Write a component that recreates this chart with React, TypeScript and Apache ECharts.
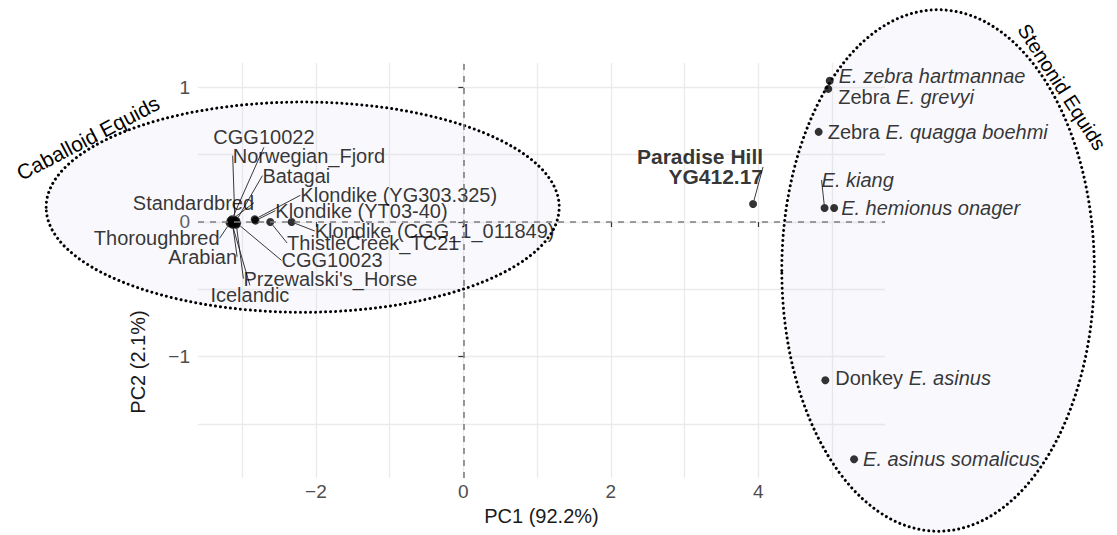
import React, { useEffect, useRef } from 'react';
import * as echarts from 'echarts';

// ---- data ----
const sampleNames = [
  'Standardbred', 'Thoroughbred', 'Arabian', 'Icelandic', 'CGG10022', 'Norwegian_Fjord', 'Batagai',
  "Przewalski's_Horse", 'CGG10023',
  'Klondike (YG303.325)', 'Klondike (YT03-40)', 'ThistleCreek_TC21', 'Klondike (CGG_1_011849)',
  'Paradise Hill\nYG412.17',
  'E. zebra hartmannae', 'Zebra E. grevyi', 'Zebra E. quagga boehmi', 'E. kiang', 'E. hemionus onager',
  'Donkey E. asinus', 'E. asinus somalicus',
];
const pc1Values = [
  -3.16, -3.17, -3.13, -3.14, -3.14, -3.10, -3.08, -3.08, -3.07,
  -2.83, -2.82, -2.62, -2.33,
  3.93,
  4.97, 4.95, 4.82, 4.90, 5.03, 4.91, 5.30,
];
const pc2Values = [
  0.01, -0.01, -0.02, -0.01, 0.02, 0.01, 0.01, -0.02, -0.01,
  0.02, 0.01, 0.0, 0.0,
  0.134,
  1.048, 0.988, 0.669, 0.104, 0.104, -1.174, -1.761,
];

const xGridValues = [-3, -2, -1, 0, 1, 2, 3, 4, 5];
const xTickValues = [-2, 0, 2, 4];
const yGridValues = [-1.5, -1, -0.5, 0, 0.5, 1];
const yTickValues = [-1, 0, 1];

const groupNames = ['Caballoid Equids', 'Stenonid Equids'];
const ellipseCenterX = [-2.18, 6.44];
const ellipseCenterY = [0.11, -0.36];
const ellipseRadiusX = [3.48, 2.12];
const ellipseRadiusY = [0.78, 1.935];

// ---- label layout (pixels relative to point) ----
const labelDx = [-37, -73, -30, 18, 32, 74, 60, 94, 95, 144, 106, 103, 143, 10, 9, 10, 9, -3, 7, 10, 9];
const labelDy = [-18, 15, 32, 72, -82, -65, -45, 54, 37, -24, -10, 21, 9, -37, -5, 8, 0, -28, 0, -2, 0];
const labelAlign = [
  'center', 'center', 'center', 'center', 'center', 'center', 'center', 'center', 'center',
  'center', 'center', 'center', 'center',
  'right',
  'left', 'left', 'left', 'left', 'left', 'left', 'left',
];
const hasLeader = [
  true, true, true, true, true, true, true, true, true,
  true, true, true, true,
  true,
  false, false, false, true, false, false, false,
];

const FONT = '"Liberation Sans", Arial, Helvetica, sans-serif';
const LABEL_SIZE = 20;

function labelText(name: string): string {
  const k = name.indexOf('E. ');
  if (k < 0) return name;
  const a = name.slice(0, k);
  const b = name.slice(k);
  return (a ? `{n|${a}}` : '') + `{i|${b}}`;
}

const fmtNum = (v: number) => (v < 0 ? '\u2212' + Math.abs(v) : String(v));

export default function App() {
  const ref = useRef<HTMLDivElement>(null);
  useEffect(() => {
    if (!ref.current) return;
    const chart = echarts.init(ref.current, undefined, { renderer: 'svg' });
    const xMin = -3.6, xMax = 5.72, yMin = -1.9, yMax = 1.18;
    const data = sampleNames.map((n, i) => {
      const item: any = {
        name: n,
        value: [pc1Values[i], pc2Values[i]],
        labelLine: { show: hasLeader[i] },
      };
      if (n.indexOf('Paradise') === 0) {
        item.label = { fontWeight: 'bold', fontSize: 21, lineHeight: 20, align: 'right', color: '#000' };
      }
      return item;
    });
    const option: any = {
      animation: false,
      textStyle: { fontFamily: FONT },
      grid: { left: 198, right: 232, top: 63, bottom: 57, containLabel: false },
      xAxis: [
        {
          type: 'value', min: xMin, max: xMax, position: 'bottom',
          axisLine: { show: false },
          axisTick: { show: false, customValues: xGridValues },
          axisLabel: { show: false },
          splitLine: { show: true, lineStyle: { color: '#ebebeb', width: 1.3 } },
        },
        {
          type: 'value', min: xMin, max: xMax, position: 'bottom', offset: 0,
          axisLine: { show: false },
          axisTick: { show: true, customValues: xTickValues, length: 5, lineStyle: { color: '#333', width: 1.2 } },
          axisLabel: { show: true, customValues: xTickValues, formatter: fmtNum, color: '#4d4d4d', fontSize: 19, margin: 4, fontFamily: FONT },
          splitLine: { show: false },
          name: 'PC1 (92.2%)', nameLocation: 'middle', nameGap: 28,
          nameTextStyle: { fontSize: 20, color: '#1a1a1a', fontFamily: FONT },
        },
      ],
      yAxis: [
        {
          type: 'value', min: yMin, max: yMax, position: 'left',
          axisLine: { show: false },
          axisTick: { show: false, customValues: yGridValues },
          axisLabel: { show: false },
          splitLine: { show: true, lineStyle: { color: '#ebebeb', width: 1.3 } },
        },
        {
          type: 'value', min: yMin, max: yMax, position: 'left', offset: 0,
          axisLine: { show: false },
          axisTick: { show: true, customValues: yTickValues, length: 5, lineStyle: { color: '#333', width: 1.2 } },
          axisLabel: { show: true, customValues: yTickValues, formatter: fmtNum, color: '#4d4d4d', fontSize: 19, margin: 8, fontFamily: FONT },
          splitLine: { show: false },
        },
      ],
      series: [
        {
          type: 'scatter',
          xAxisIndex: 0,
          yAxisIndex: 0,
          symbol: 'circle',
          symbolSize: 8,
          itemStyle: { color: '#000' },
          emphasis: { disabled: true },
          z: 3,
          data,
          label: {
            show: true,
            position: 'right',
            fontSize: LABEL_SIZE,
            color: '#000',
            fontFamily: FONT,
            formatter: (p: any) => labelText(p.name),
            rich: {
              n: { fontSize: LABEL_SIZE, color: '#000', fontFamily: FONT, fontStyle: 'normal' },
              i: { fontSize: LABEL_SIZE, color: '#000', fontFamily: FONT, fontStyle: 'italic' },
            },
          },
          labelLine: { show: true, smooth: false, length2: 0, lineStyle: { color: '#222', width: 0.9 } },
          labelLayout: (params: any) => {
            const i = params.dataIndex;
            const r = params.rect;
            const cx = r.x + r.width / 2;
            const cy = r.y + r.height / 2;
            return {
              x: cx + labelDx[i],
              y: cy + labelDy[i],
              align: labelAlign[i],
              verticalAlign: 'middle',
            };
          },
          markLine: {
            silent: true,
            symbol: ['none', 'none'],
            label: { show: false },
            lineStyle: { type: [6, 6], color: '#7f7f7f', width: 1.6 },
            data: [{ xAxis: 0 }, { yAxis: 0 }],
          },
        },
      ],
    };
    chart.setOption(option);

    const ellipses = groupNames.map((g, k) => {
      const c = chart.convertToPixel({ gridIndex: 0 } as any, [ellipseCenterX[k], ellipseCenterY[k]]) as number[];
      const e = chart.convertToPixel({ gridIndex: 0 } as any, [
        ellipseCenterX[k] + ellipseRadiusX[k],
        ellipseCenterY[k] + ellipseRadiusY[k],
      ]) as number[];
      return {
        type: 'ellipse',
        silent: true,
        z: 1,
        shape: { cx: c[0], cy: c[1], rx: Math.abs(e[0] - c[0]), ry: Math.abs(e[1] - c[1]) },
        style: {
          fill: 'rgba(205,205,240,0.14)',
          stroke: '#000',
          lineWidth: 3,
          lineDash: [0.01, 5],
          lineCap: 'round',
        },
      };
    });
    const texts = [
      {
        type: 'text', x: 88, y: 138, rotation: 0.48, z: 5, silent: true,
        style: { text: groupNames[0], fontSize: 21, fontFamily: FONT, fill: '#000', align: 'center', verticalAlign: 'middle', textAlign: 'center', textVerticalAlign: 'middle' },
      },
      {
        type: 'text', x: 1062, y: 87, rotation: -1.0, z: 5, silent: true,
        style: { text: groupNames[1], fontSize: 20, fontFamily: FONT, fill: '#000', align: 'center', verticalAlign: 'middle', textAlign: 'center', textVerticalAlign: 'middle' },
      },
      {
        type: 'text', x: 138, y: 362, rotation: Math.PI / 2, z: 5, silent: true,
        style: { text: 'PC2 (2.1%)', fontSize: 20, fontFamily: FONT, fill: '#1a1a1a', align: 'center', verticalAlign: 'middle', textAlign: 'center', textVerticalAlign: 'middle' },
      },
    ];
    chart.setOption({ graphic: [...ellipses, ...texts] });

    return () => chart.dispose();
  }, []);
  return (
    <div
      ref={ref}
      style={{ position: 'fixed', left: 0, top: 0, width: 1117, height: 535, background: '#fff' }}
    />
  );
}
